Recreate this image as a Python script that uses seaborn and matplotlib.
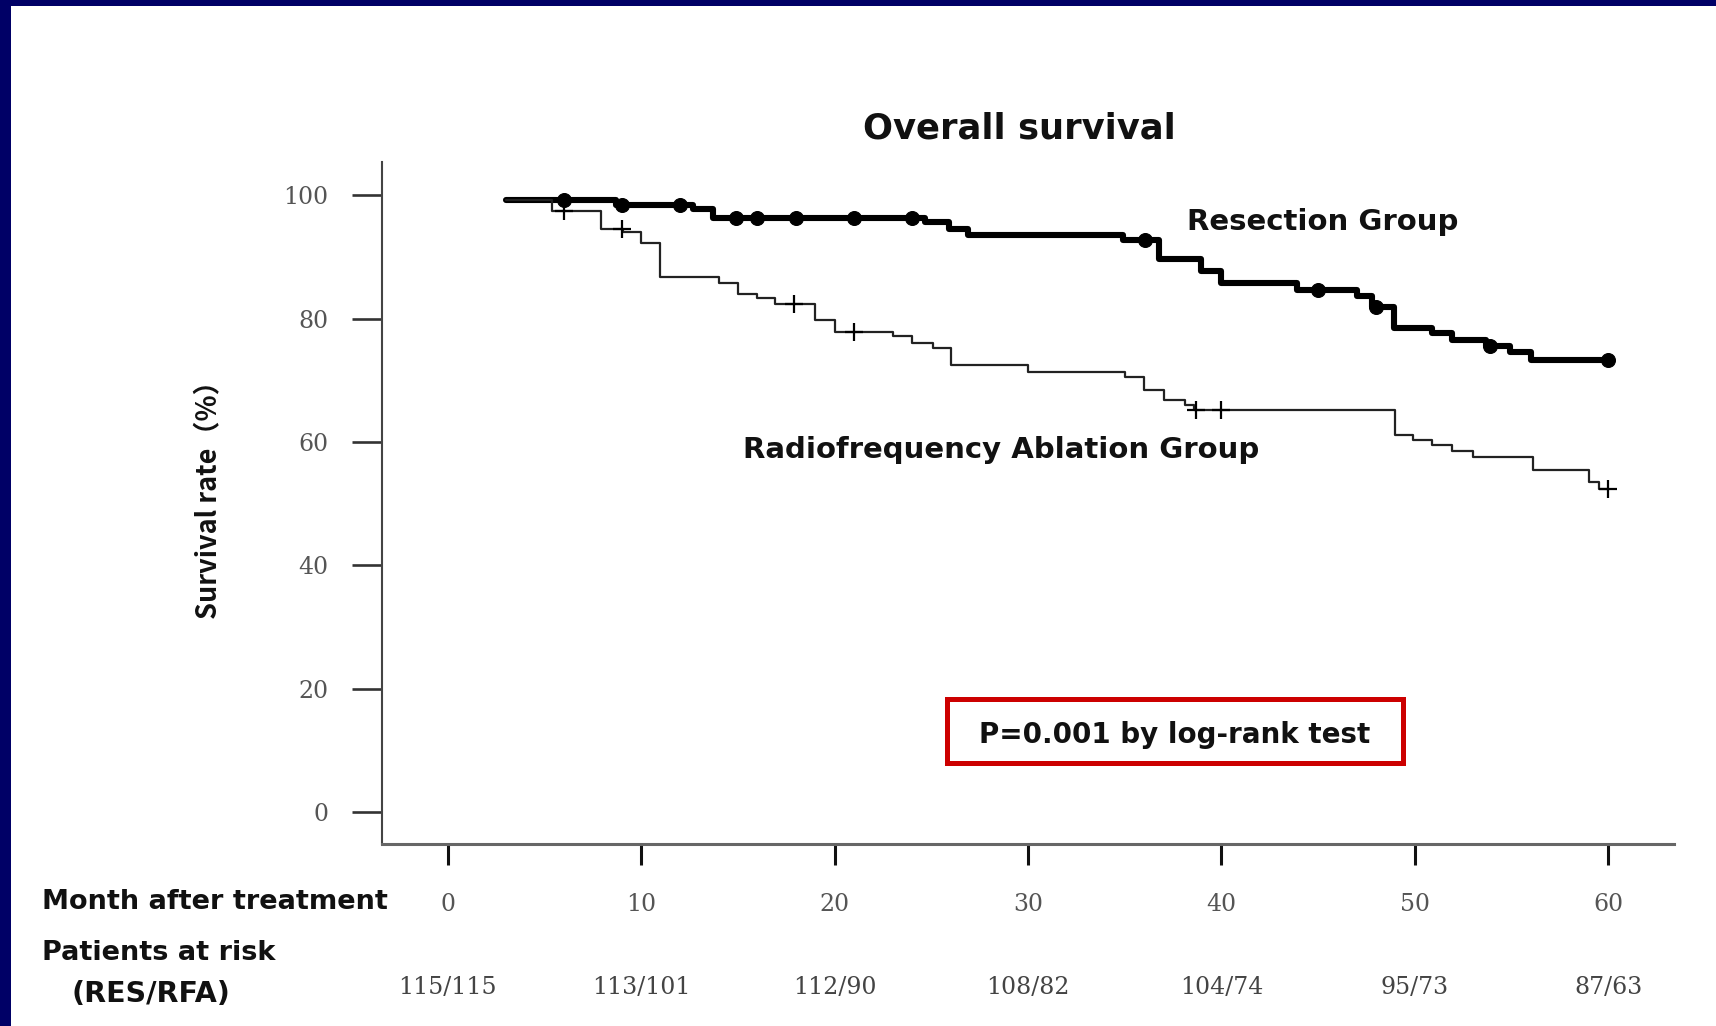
import numpy as np
import pandas as pd
import seaborn as sns
import matplotlib.pyplot as plt
from matplotlib.patches import Rectangle
from matplotlib.transforms import blended_transform_factory

sns.set_style('white')

# Kaplan-Meier step curves (month, survival %)
res_t = [3.0, 8.7, 12.7, 13.7, 24.7, 25.9, 26.9, 34.9, 36.8, 38.95, 40.0, 43.9,
         47.0, 47.8, 48.9, 50.9, 51.9, 53.7, 54.9, 56.0, 60.0]
res_s = [99.3, 98.4, 97.7, 96.4, 95.7, 94.6, 93.5, 92.7, 89.7, 87.8, 85.7, 84.6,
         83.6, 81.9, 78.5, 77.6, 76.5, 75.5, 74.6, 73.3, 73.3]

rfa_t = [3.0, 5.4, 7.9, 9.05, 10.0, 11.0, 14.0, 15.0, 16.0, 16.9, 19.0, 20.0,
         23.0, 24.0, 25.1, 26.0, 30.0, 35.0, 36.0, 37.05, 38.1, 38.6, 49.0,
         49.9, 50.9, 51.9, 53.0, 56.1, 59.0, 59.5, 60.0]
rfa_s = [99.3, 97.5, 94.6, 94.0, 92.2, 86.8, 85.7, 84.0, 83.3, 82.4, 79.7, 77.8,
         77.2, 76.1, 75.2, 72.4, 71.4, 70.6, 68.4, 66.8, 66.0, 65.2, 61.2,
         60.3, 59.5, 58.6, 57.5, 55.4, 53.5, 52.4, 52.4]

# censored observations (months)
res_cens = [6.0, 9.0, 12.0, 14.9, 16.0, 18.0, 21.0, 24.0, 36.05, 45.0, 48.0, 53.9, 60.0]
rfa_cens = [6.0, 9.0, 17.9, 21.0, 38.7, 40.0, 60.0]

months = [0, 10, 20, 30, 40, 50, 60]
at_risk = ['115/115', '113/101', '112/90', '108/82', '104/74', '95/73', '87/63']


def step_value(t, s, x):
    idx = np.searchsorted(t, x, side='right') - 1
    return np.asarray(s)[idx]


curves = pd.concat([
    pd.DataFrame({'month': res_t, 'survival': res_s, 'group': 'Resection'}),
    pd.DataFrame({'month': rfa_t, 'survival': rfa_s, 'group': 'RFA'}),
])
cens_res = pd.DataFrame({'month': res_cens, 'survival': step_value(res_t, res_s, res_cens)})
cens_rfa = pd.DataFrame({'month': rfa_cens, 'survival': step_value(rfa_t, rfa_s, rfa_cens)})

fig = plt.figure(figsize=(17.16, 10.26), dpi=100)
ax = fig.add_axes([0.2226, 0.1774, 0.7529, 0.6647])

sns.lineplot(data=curves, x='month', y='survival', hue='group', size='group',
             palette={'Resection': 'black', 'RFA': '#222222'},
             sizes={'Resection': 4.4, 'RFA': 1.6},
             drawstyle='steps-post', estimator=None, sort=False,
             legend=False, ax=ax)
sns.scatterplot(data=cens_res, x='month', y='survival', marker='o', s=100,
                color='black', edgecolor='black', zorder=5, legend=False, ax=ax)
sns.scatterplot(data=cens_rfa, x='month', y='survival', marker='+', s=150,
                color='black', linewidth=1.6, zorder=5, legend=False, ax=ax)

ax.set_xlim(-3.4, 63.4)
ax.set_ylim(-5.2, 105.4)
ax.set_xticks(months)
ax.set_yticks([0, 20, 40, 60, 80, 100])
ax.set_xlabel('')

for side in ['top', 'right']:
    ax.spines[side].set_visible(False)
ax.spines['left'].set_color('#444444')
ax.spines['left'].set_linewidth(1.5)
ax.spines['bottom'].set_color('#666666')
ax.spines['bottom'].set_linewidth(2.2)

serif = 'DejaVu Serif'
ax.tick_params(axis='y', left=True, direction='out', length=21.6, width=1.9,
               color='#333333', pad=17, labelsize=17, labelcolor='#555555')
ax.tick_params(axis='x', bottom=True, direction='out', length=15, width=2.2,
               color='#111111', pad=20, labelsize=17, labelcolor='#555555')
for lab in ax.get_xticklabels() + ax.get_yticklabels():
    lab.set_family(serif)

ax.set_ylabel('Survival rate（%）',
              family=['Liberation Sans Narrow', 'Noto Sans CJK SC', 'DejaVu Sans'],
              fontweight='bold', fontsize=19.5, color='#111111')
ax.yaxis.label.set_va('center')
ax.yaxis.set_label_coords(-0.1347, 0.515)

bold = dict(family='DejaVu Sans', fontweight='bold', color='#111111')
fig.text(0.594, 0.8752, 'Overall survival', ha='center', va='center', fontsize=25.5, **bold)
ax.text(45.25, 95.7, 'Resection Group', ha='center', va='center', fontsize=21, **bold)
ax.text(28.6, 58.7, 'Radiofrequency Ablation Group', ha='center', va='center',
        fontsize=21, **bold)
ax.text(37.57, 12.5, 'P=0.001 by log-rank test', ha='center', va='center',
        fontsize=20, **bold)
# red frame around the log-rank annotation
ax.add_patch(Rectangle((25.8, 7.9), 23.6, 10.4, fill=False, edgecolor='#cc0000',
                       linewidth=3.6, zorder=4))

fig.text(42 / 1716, 1 - 902 / 1026, 'Month after treatment', ha='left', va='center',
         fontsize=19.5, **bold)
fig.text(42 / 1716, 1 - 953 / 1026, 'Patients at risk', ha='left', va='center',
         fontsize=19.5, **bold)
fig.text(72 / 1716, 1 - 994 / 1026, '(RES/RFA)', ha='left', va='center',
         fontsize=20.5, **bold)

row = blended_transform_factory(ax.transData, fig.transFigure)
for m, n in zip(months, at_risk):
    ax.text(m, 1 - 988 / 1026, n, transform=row, ha='center', va='center',
            family=serif, fontsize=17, color='#444444')

# navy slide frame on top and left
fig.add_artist(Rectangle((0, 0), 11 / 1716, 1, transform=fig.transFigure,
                         facecolor='#000066', edgecolor='none'))
fig.add_artist(Rectangle((0, 1 - 6 / 1026), 1, 6 / 1026, transform=fig.transFigure,
                         facecolor='#000066', edgecolor='none'))

fig.savefig('out.png', dpi=100, facecolor='white')
